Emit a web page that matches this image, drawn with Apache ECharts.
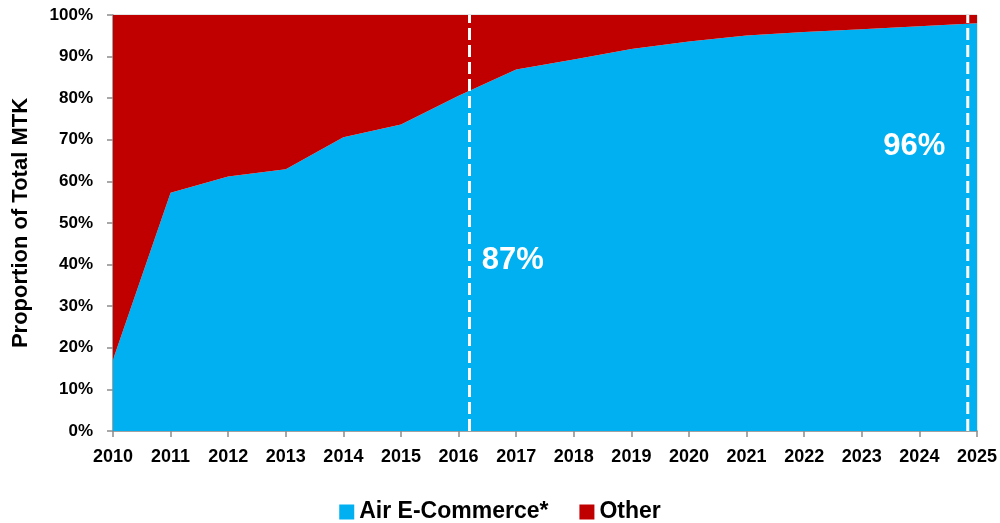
<!DOCTYPE html>
<html>
<head>
<meta charset="utf-8">
<script src="https://cdn.jsdelivr.net/npm/echarts@6/dist/echarts.min.js"></script>
<style>
html,body{margin:0;padding:0;background:#fff;}
#chart{width:1000px;height:523px;}
</style>
</head>
<body>
<div id="chart"></div>
<script>
const years = ['2010','2011','2012','2013','2014','2015','2016','2017','2018','2019','2020','2021','2022','2023','2024','2025'];
const airShare = [17.1,57.3,61.2,62.9,70.6,73.7,80.6,86.9,89.3,91.8,93.6,95.1,95.9,96.6,97.3,98.0];
const otherShare = [82.9,42.7,38.8,37.1,29.4,26.3,19.4,13.1,10.7,8.2,6.4,4.9,4.1,3.4,2.7,2.0];
const markerYears = [2016.19, 2024.84];
const callouts = [{text:'87%', year:2016.94, value:41}, {text:'96%', year:2023.91, value:68.5}];
const yTicks = ['0%','10%','20%','30%','40%','50%','60%','70%','80%','90%','100%'];

const chart = echarts.init(document.getElementById('chart'));
const F = 'Liberation Sans';
const dashSeries = markerYears.map(x => ({
  type:'line', xAxisIndex:1, data:[[x,0],[x,100]],
  showSymbol:false, silent:true, z:5,
  lineStyle:{color:'#fff',width:3,type:[12,5]}
}));
chart.setOption({
  animation:false,
  grid:{left:113,right:22,top:15,bottom:92,show:true,borderColor:'#c8c8c8',borderWidth:1},
  legend:{
    top:499,left:'center',padding:0,
    itemWidth:15,itemHeight:15,itemGap:31,
    icon:'rect',
    textStyle:{fontFamily:F,fontWeight:'bold',fontSize:23,color:'#000',lineHeight:26},
    data:['Air E-Commerce*','Other']
  },
  xAxis:[{
    type:'category',data:years,boundaryGap:false,
    axisLine:{lineStyle:{color:'#8c8c8c',width:1.5}},
    axisTick:{show:true,length:6,lineStyle:{color:'#8c8c8c',width:1.5}},
    splitLine:{show:false},
    axisLabel:{interval:0,fontFamily:F,fontWeight:'bold',fontSize:18,color:'#000',margin:17}
  },{
    type:'value',min:2010,max:2025,show:false,splitLine:{show:false}
  }],
  yAxis:{
    type:'value',min:0,max:100,interval:10,
    name:'Proportion of Total MTK',nameLocation:'middle',nameGap:81,
    nameTextStyle:{fontFamily:F,fontWeight:'bold',fontSize:22,color:'#000'},
    axisLine:{show:true,lineStyle:{color:'#8c8c8c',width:1.5}},
    axisTick:{show:true,length:6,lineStyle:{color:'#8c8c8c',width:1.5}},
    splitLine:{show:false},
    axisLabel:{formatter:v=>yTicks[Math.round(v/10)],fontFamily:F,fontWeight:'bold',fontSize:17,color:'#000',margin:20}
  },
  series:[
    {
      name:'Air E-Commerce*',type:'line',stack:'t',
      data:airShare,
      showSymbol:false,lineStyle:{width:0},
      itemStyle:{color:'#00B0F0'},
      areaStyle:{color:'#00B0F0',opacity:1},
      z:2
    },
    {
      name:'Other',type:'line',stack:'t',
      data:otherShare,
      showSymbol:false,lineStyle:{width:0},
      itemStyle:{color:'#C00000'},
      areaStyle:{color:'#C00000',opacity:1},
      z:2
    },
    ...dashSeries,
    {
      type:'scatter',xAxisIndex:1,silent:true,symbolSize:1,z:6,
      itemStyle:{color:'rgba(0,0,0,0)',opacity:1},
      data:callouts.map(c=>({name:c.text,value:[c.year,c.value]})),
      label:{show:true,position:'inside',formatter:p=>p.name,color:'#ffffff',opacity:1,fontFamily:F,fontWeight:'bold',fontSize:31}
    }
  ]
});
</script>
</body>
</html>
